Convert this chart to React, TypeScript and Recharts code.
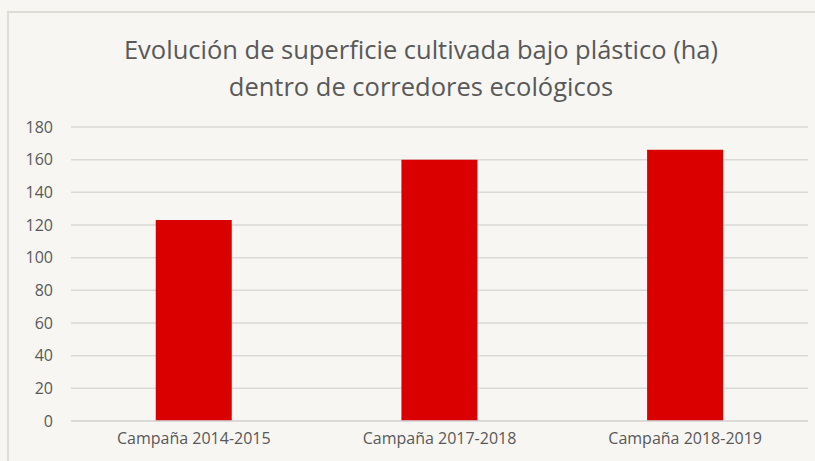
import React from "react";
import { BarChart, Bar, XAxis, YAxis, CartesianGrid } from "recharts";

const campanas = ["Campaña 2014-2015", "Campaña 2017-2018", "Campaña 2018-2019"];
const superficie = [123, 160, 166];
const yTicks = [0, 20, 40, 60, 80, 100, 120, 140, 160, 180];

const data = campanas.map((c, i) => ({ campana: c, ha: superficie[i] }));

const BG = "#f7f6f2";
const FONT = "'Open Sans', 'Liberation Sans', sans-serif";

export default function App() {
    return (
        <div
            style={{
                position: "absolute",
                left: 0,
                top: 0,
                width: 815,
                height: 461,
                background: BG,
                overflow: "hidden",
                fontFamily: FONT,
            }}
        >
            {/* marco del gráfico */}
            <div
                style={{
                    position: "absolute",
                    left: 7,
                    top: 11,
                    width: 820,
                    height: 470,
                    borderTop: "2px solid #dddcd7",
                    borderLeft: "2px solid #dddcd7",
                }}
            />
            <div
                style={{
                    position: "absolute",
                    left: 0,
                    top: 31,
                    width: 842,
                    textAlign: "center",
                    color: "#595959",
                    fontSize: 25.5,
                    lineHeight: "37px",
                }}
            >
                Evolución de superficie cultivada bajo plástico (ha)
                <br />
                dentro de corredores ecológicos
            </div>
            <div style={{ position: "absolute", left: 0, top: 0 }}>
                <BarChart
                    width={815}
                    height={461}
                    data={data}
                    margin={{ top: 127, right: 7, left: 0, bottom: 10 }}
                    barCategoryGap="34.5%"
                >
                    <CartesianGrid vertical={false} stroke="#d9d9d6" strokeWidth={1.5} />
                    <XAxis
                        dataKey="campana"
                        axisLine={{ stroke: "#d9d9d6", strokeWidth: 1.5 }}
                        tickLine={false}
                        tickMargin={6}
                        height={30}
                        tick={{ fontSize: 16, fill: "#595959", fontFamily: FONT }}
                    />
                    <YAxis
                        domain={[0, 180]}
                        ticks={yTicks}
                        axisLine={false}
                        tickLine={false}
                        tickMargin={12}
                        width={71}
                        tick={{ fontSize: 16, fill: "#595959", fontFamily: FONT }}
                    />
                    <Bar dataKey="ha" fill="#db0000" isAnimationActive={false} />
                </BarChart>
            </div>
        </div>
    );
}
